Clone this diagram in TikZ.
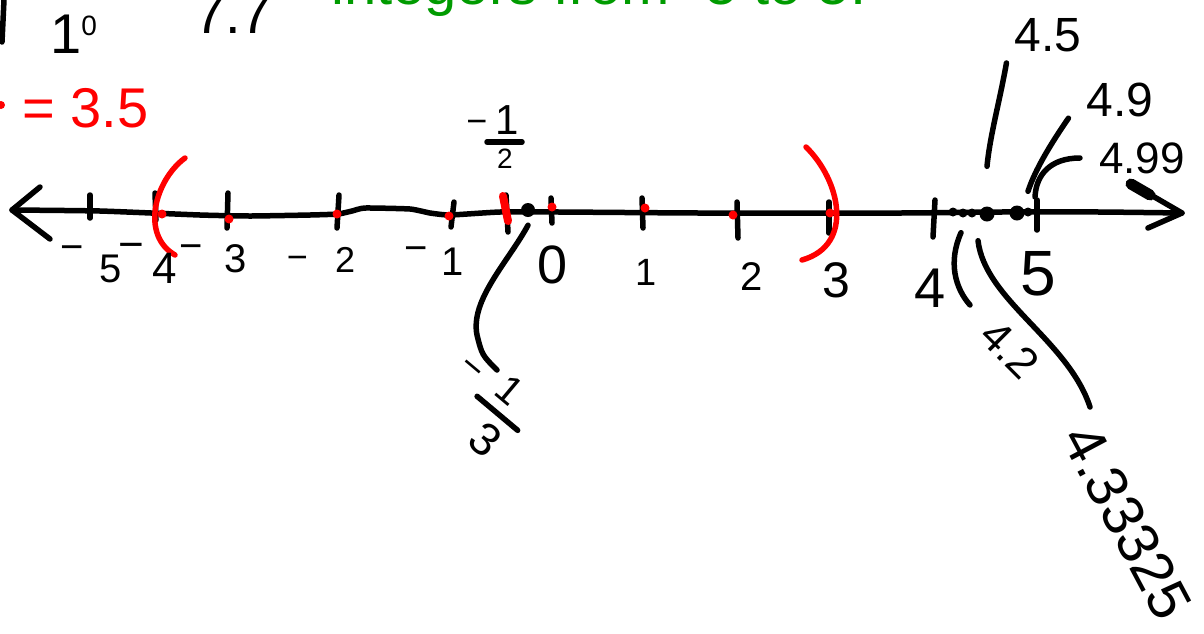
\documentclass[tikz,border=0pt]{standalone}
\usepackage{fontspec}
\setmainfont{Liberation Sans}
\usetikzlibrary{positioning}
\definecolor{penred}{RGB}{255,0,0}
\definecolor{pengreen}{RGB}{0,155,0}
\newcommand{\hmin}[1][12pt]{\raisebox{#1}{−}}

\begin{document}
\begin{tikzpicture}[x=1pt, y=-1pt,
  ink/.style={line width=5.5pt, line cap=round, line join=round},
  redink/.style={ink, draw=penred},
  num/.style={font=\fontsize{#1}{#1}\selectfont, inner sep=0pt},
  num/.default=40,
  dot/.style={circle, fill, inner sep=0pt, minimum size=#1},
  dot/.default=8pt]
\useasboundingbox (0,0) rectangle (1204,633);

% notes at the top
\node[num=58, anchor=base west, text=pengreen] (title) at (331,4) {integers from -5 to 5.};
\node[num=56, anchor=base west] (ten) at (50,53) {1{\fontsize{28}{28}\selectfont\raisebox{18pt}{0}}};
\node[num=56, anchor=base west] (sevens) at (194,33) {7.7};
\draw[ink] (4,0) -- (2,42);
\node[num=56, anchor=base west, text=penred] (val) at (22,127) {= 3.5};
\fill[penred] (1,105) circle (4);

% number line
\coordinate (lend) at (12,210);
\coordinate (rend) at (1182,213);
\draw[ink] plot[smooth, tension=0.3] coordinates {(lend) (100,211) (200,215) (250,216)
  (310,215) (338,214) (352,211) (365,208) (410,209) (430,213) (450,215) (500,212)
  (560,212) (700,213) (900,213) (1000,212) (1100,212) (rend)};
\draw[ink] (40,187) -- (lend) -- (50,239);
\draw[ink] (1148,228) -- (rend) -- (1132,184);
\draw[line width=11pt, line cap=round] (1131,184) -- (1150,195);

\foreach \xa/\ya/\xb/\yb in {90/195/90/218, 155/193/156/220, 228/193/227/228,
    339/195/337/228, 454/202/451/227, 506/195/508/232, 551/198/552/223,
    642/198/643/228, 737/202/738/238, 829/202/829/233, 935/200/933/237,
    1037/200/1037/230}
  \draw[ink] (\xa,\ya) -- (\xb,\yb);

\foreach \x/\y in {162/214, 229/219, 337/214, 449/216, 552/207, 645/208,
    733/215, 830/213}
  \fill[penred] (\x,\y) circle (4.5);

% interval
\draw[redink] (185,158) .. controls (155,180) and (140,235) .. (175,255);
\draw[redink] (806,147) .. controls (840,180) and (855,245) .. (802,260);
\draw[redink, line width=8pt] (503,196) -- (508,221);

% integer labels
\node[num, anchor=base] (lm5) at (91,282) {\hmin[22pt]\hspace{16pt}5};
\node[num=44, anchor=base] (lm4) at (148,283) {\hmin[24pt]\hspace{8pt}4};
\node[num, anchor=base] (lm3) at (213,272) {\hmin[13pt]\hspace{21pt}3};
\node[num=36, anchor=base] (lm2) at (321,272) {\hmin[3pt]\hspace{27pt}2};
\node[num, anchor=base] (lm1) at (434,275) {\hmin[14pt]\hspace{13pt}1};
\node[num=54, anchor=base] (l0) at (553,283) {0};
\node[num=38, anchor=base] (l1) at (646,285) {1};
\node[num, anchor=base] (l2) at (752,290) {2};
\node[num=50, anchor=base] (l3) at (836,297) {3};
\node[num=56, anchor=base] (l4) at (930,307) {4};
\node[num=64, anchor=base] (l5) at (1038,295) {5};

% -1/2 and -1/3
\node[num=36] (m12) at (477,127) {−};
\node[num=42] (n12) at (507,120) {1};
\node[num=28] (d12) at (505,159) {2};
\draw[ink] (487,142) -- (522,142);

\node[dot=14pt] (third) at (528,210) {};
\coordinate (e13) at (497,370);
\draw[ink] ([yshift=-8pt]third.south) .. controls (508,262) and (470,300) .. (477,335)
  .. controls (482,355) .. (e13);
\begin{scope}[shift={(497,413)}, rotate=-40]
  \node[num=38, rotate=-40] (m13) at (-48,-14) {−};
  \node[num=40, rotate=-40] (n13) at (-5,-26) {1};
  \node[num=46, rotate=-40] (d13) at (8,28) {3};
  \draw[ink] (-26,0) -- (27,0);
\end{scope}

% points between 4 and 5
\node[dot=9pt] (d42) at (953,212) {};
\node[dot=9pt] (dmid) at (963,213) {};
\node[dot=9pt] (d43) at (972,213) {};
\node[dot=15pt] (d45) at (987,214) {};
\node[dot=15pt] (d48) at (1017,213) {};
\node[dot=9pt] (d49) at (1028,212) {};
\coordinate (t499) at (1035,197);
\coordinate (e42) at (970,305);
\coordinate (e43) at (1090,407);

\node[num=48] (l45) at (1048,35) {4.5};
\node[num=48] (l49) at (1120,100) {4.9};
\node[num=44] (l499) at (1142,158) {4.99};
\node[num=44, rotate=-45] (l42) at (1010,349) {4.2};
\node[num=58, rotate=-62] (l43) at (1127,522) {4.33325};

\draw[ink] ([shift={(-8,11)}]l45.south west) .. controls (1000,100) and (990,135) .. ([yshift=40pt]d45.north);
\draw[ink] ([shift={(-18,1)}]l49.south west) .. controls (1050,145) and (1035,170) .. ([yshift=16pt]d49.north);
\draw[ink] ([xshift=-19pt]l499.west) .. controls (1050,158) and (1036,175) .. (t499);
\draw[ink] ([shift={(8,16)}]d42.south) .. controls (948,262) and (955,288) .. (e42);
\draw[ink] ([shift={(6,23)}]d43.south) .. controls (985,300) and (1068,340) .. (e43);
\end{tikzpicture}
\end{document}
